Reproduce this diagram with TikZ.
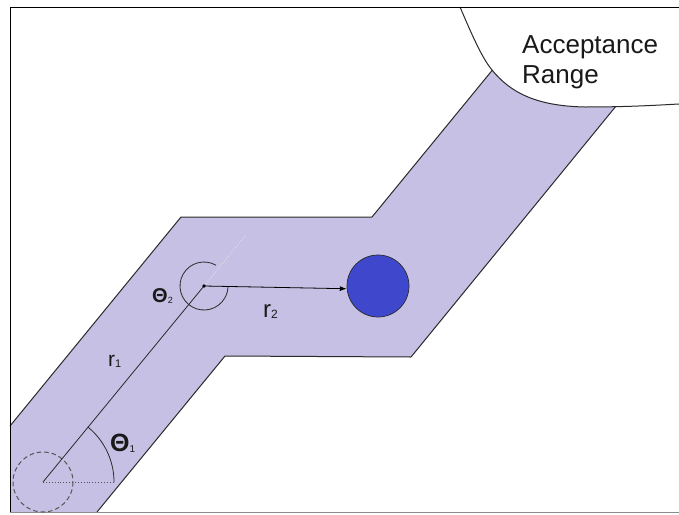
\documentclass[tikz,border=0pt]{standalone}
\usepackage{fontspec}
\setmainfont{Liberation Sans}
\usetikzlibrary{arrows.meta}
\definecolor{bandfill}{HTML}{C6C0E4}
\definecolor{ballblue}{HTML}{3F48CC}
\definecolor{edgegray}{HTML}{2A2A2A}
\begin{document}
\begin{tikzpicture}[x=1pt,y=-1pt,
  edge/.style={draw=edgegray, line width=1pt},
  thin edge/.style={draw=edgegray, line width=0.8pt},
  lbl/.style={inner sep=0pt, anchor=base west, text=black!90},
]
\useasboundingbox (0,0) rectangle (679,514);
% band
\fill[bandfill] (10,426) -- (181,217) -- (372,217) -- (517,40) -- (670,40) -- (411,357) -- (225,356) -- (97,512) -- (10,512) -- cycle;
\draw[edge] (10,426) -- (181,217) -- (372,217) -- (517,40);
\draw[edge] (97,512) -- (225,356) -- (411,357) -- (670,40);
% acceptance region
\fill[white] (460,7) .. controls (472,35) and (482,58) .. (492,70) .. controls (510,92) and (535,106) .. (585,107) .. controls (630,107) and (660,105) .. (679,104) -- (679,7) -- cycle;
\draw[edge] (460,7) .. controls (472,35) and (482,58) .. (492,70) .. controls (510,92) and (535,106) .. (585,107) .. controls (630,107) and (660,105) .. (679,104);
% frame
\draw[black, line width=0.9pt] (10,512) -- (10,7) -- (679,7);
\draw[black!45, line width=0.8pt] (10,512) -- (679,512);
% geometry
\coordinate (O) at (43,482);
\coordinate (P) at (204,286);
\coordinate (Q) at (245,236);
\coordinate (H) at (115,482);
\node[circle, fill=ballblue, draw=edgegray, line width=0.7pt, minimum size=62pt, inner sep=0pt] (ball) at (378,286) {};
\draw[dashed, dash pattern=on 4.5pt off 3pt, draw=edgegray!80, line width=1pt] (O) circle (30);
\draw[dotted, draw=edgegray!80, line width=0.9pt] (O) -- (H);
\draw[thin edge] (O) -- (P);
\draw[dotted, draw=white!80!gray, line width=0.9pt] (P) -- (Q);
\draw[thin edge] (O) ++(0:71) arc[start angle=0, end angle=-51, radius=71];
\draw[thin edge] (P) ++(-60:24) arc[start angle=-60, end angle=-360, radius=24];
\fill[black] (P) circle (1.8);
\draw[thin edge, draw=black, -{Latex[length=7pt,width=5pt]}] (P) -- (ball.185);
% labels
\node[lbl, font=\fontsize{25}{25}\selectfont\bfseries] (t1) at (110,451) {Θ\raisebox{-1pt}{\fontsize{10}{10}\selectfont\mdseries 1}};
\node[lbl, font=\fontsize{20}{20}\selectfont\bfseries] (t2) at (152,302) {Θ\raisebox{-1pt}{\fontsize{9}{9}\selectfont\mdseries 2}};
\node[lbl, font=\fontsize{21}{21}\selectfont] (r1) at (108,366) {r\raisebox{-1pt}{\fontsize{11}{11}\selectfont 1}};
\node[lbl, font=\fontsize{24}{24}\selectfont] (r2) at (263,317) {r\raisebox{-1pt}{\fontsize{12}{12}\selectfont 2}};
\node[lbl, font=\fontsize{26}{26}\selectfont] (acc1) at (522,53) {Acceptance};
\node[lbl, font=\fontsize{26}{26}\selectfont] (acc2) at (522,83) {Range};
\end{tikzpicture}
\end{document}
